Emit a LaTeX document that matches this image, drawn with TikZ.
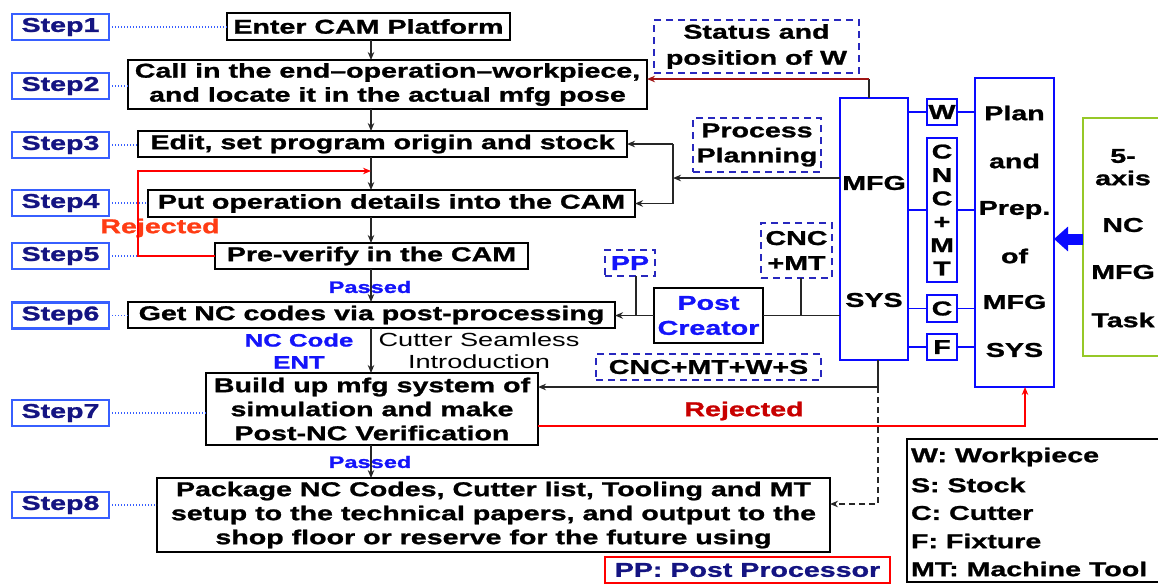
\documentclass[tikz,border=0pt]{standalone}
\usepackage{fontspec}
\setmainfont{Liberation Sans}[FakeStretch=1.43, BoldFeatures={FakeBold=1.2}]
\usetikzlibrary{arrows.meta}
\definecolor{stepblue}{RGB}{55,95,255}
\definecolor{stepnavy}{RGB}{20,20,130}
\definecolor{sysblue}{RGB}{10,10,255}
\definecolor{dashblue}{RGB}{40,40,190}
\definecolor{textblue}{RGB}{20,20,250}
\definecolor{rejorange}{RGB}{255,60,20}
\definecolor{rejdark}{RGB}{200,0,0}
\definecolor{stred}{RGB}{160,20,20}
\definecolor{lineRed}{RGB}{255,0,0}
\definecolor{taskgreen}{RGB}{150,200,40}
\begin{document}
\begin{tikzpicture}[x=1pt,y=-1pt,
  every node/.style={inner sep=0pt, outer sep=0pt, font=\bfseries\fontsize{20}{24}\selectfont},
  stepbox/.style={draw=stepblue, line width=2.5pt, text=stepnavy, minimum width=97pt, minimum height=26pt},
  procbox/.style={draw=black, line width=2pt, align=center},
  dbox/.style={draw=dashblue, line width=1.8pt, dash pattern=on 7pt off 5pt, align=center},
  sysbox/.style={draw=sysblue, line width=2.8pt},
  link/.style={line width=1.5pt, draw=black!85},
  tipk/.style={-{Stealth[length=8pt,width=6.5pt]}},
  arr/.style={link, tipk},
  blink/.style={line width=1.6pt, draw=sysblue},
  dotl/.style={draw=stepblue, line width=1.3pt, dash pattern=on 1.2pt off 1.8pt},
  twoline/.style={align=center, font=\bfseries\fontsize{20}{25}\selectfont}]
\useasboundingbox (0,0) rectangle (1158,584);
\fill[white] (0,0) rectangle (1158,584);

% step labels
\foreach \n/\y in {1/27,2/86,3/145,4/203,5/256,6/315.5,7/413,8/505}
  \node[stepbox] (S\n) at (60.5,\y) {Step\n};

% process boxes
\node[procbox, minimum width=283pt, minimum height=27pt] (B1) at (368.5,26.5) {Enter CAM Platform};
\node[procbox, minimum width=519pt, minimum height=49pt] (B2) at (387.5,84.5) {Call in the end–operation–workpiece,\\and locate it in the actual mfg pose};
\node[procbox, minimum width=489pt, minimum height=26pt] (B3) at (382.5,144) {Edit, set program origin and stock};
\node[procbox, minimum width=487pt, minimum height=27pt] (B4) at (391.5,203.5) {Put operation details into the CAM};
\node[procbox, minimum width=313pt, minimum height=26pt] (B5) at (371.5,256) {Pre-verify in the CAM};
\node[procbox, minimum width=487pt, minimum height=26pt] (B6) at (371.5,315) {Get NC codes via post-processing};
\node[procbox, minimum width=332pt, minimum height=72pt] (B7) at (372,409) {Build up mfg system of\\simulation and make\\Post-NC Verification};
\node[procbox, minimum width=673pt, minimum height=74pt] (B8) at (493.5,515) {Package NC Codes, Cutter list, Tooling and MT\\setup to the technical papers, and output to the\\shop floor or reserve for the future using};

% dotted step links
\foreach \n in {1,...,8}
  \draw[dotl] (S\n.east) -- (S\n.east -| B\n.west);

% labels on the main column
\node[text=rejorange] (rejL) at (160,228) {Rejected};
\node[text=textblue, font=\bfseries\fontsize{16.5}{18}\selectfont] (pass1) at (370,287) {Passed};
\node[text=textblue, font=\bfseries\fontsize{16.5}{18}\selectfont] (pass2) at (370,462) {Passed};
\node[text=textblue, align=center, font=\bfseries\fontsize{18}{22}\selectfont] (nce) at (299,351) {NC Code\\ENT};
\node[align=center, font=\fontsize{19}{22}\selectfont] (csi) at (479,351) {Cutter Seamless\\Introduction};

% main column arrows
\coordinate (ax) at (371,0);
\draw[arr] (B1.south -| ax) -- (B2.north -| ax);
\draw[arr] (B2.south -| ax) -- (B3.north -| ax);
\draw[arr] (B3.south -| ax) -- (B4.north -| ax);
\draw[arr] (B4.south -| ax) -- (B5.north -| ax);
\draw[arr] (B5.south -| ax) -- (B6.north -| ax);
\draw[arr] (B6.south -| ax) -- (B7.north -| ax);
\draw[arr] (B7.south -| ax) -- (B8.north -| ax);

% rejected loop (step 5 back to step 4)
\coordinate (rj) at (138,171);
\draw[draw=lineRed, line width=2pt, -{Stealth[length=8pt,width=6.5pt]}] (B5.west) -| (rj) -- (rj -| ax);

% right side boxes
\node[dbox, minimum width=205pt, minimum height=53pt, twoline, font=\bfseries\fontsize{20}{26}\selectfont] (SW) at (756.5,46.5) {Status and\\position of W};
\node[dbox, minimum width=128pt, minimum height=54pt, twoline] (PrP) at (757,145) {Process\\Planning};
\node[sysbox, minimum width=68pt, minimum height=262pt] (mfg) at (874,229) {};
\node (mfgt1) at (874,183) {MFG};
\node (mfgt2) at (874,300) {SYS};

\node[sysbox, minimum width=30pt, minimum height=26pt] (bW) at (942,112) {W};
\node[sysbox, minimum width=30pt, minimum height=144pt, align=center, font=\bfseries\fontsize{20}{23.4}\selectfont] (bCM) at (942,210) {C\\N\\C\\+\\M\\T};
\node[sysbox, minimum width=30pt, minimum height=27pt] (bC) at (942,308.5) {C};
\node[sysbox, minimum width=30pt, minimum height=26pt] (bF) at (942,347) {F};

\node[sysbox, minimum width=79pt, minimum height=309pt] (plan) at (1014.5,232.5) {};
\node (p1) at (1014.5,113) {Plan};
\node (p2) at (1014.5,161) {and};
\node (p3) at (1014.5,210) {Prep.};
\node (p4) at (1014.5,256) {of};
\node (p5) at (1014.5,302) {MFG};
\node (p6) at (1014.5,350) {SYS};

\foreach \b in {bW,bCM,bC,bF}{
  \draw[blink] (mfg.east |- \b.west) -- (\b.west);
  \draw[blink] (\b.east) -- (plan.west |- \b.east);
}

% 5-axis NC MFG task
\draw[draw=taskgreen, line width=2.2pt] (1158,118) -- (1083,118) -- (1083,356) -- (1158,356);
\node (g1) at (1123,156) {5-};
\node (g2) at (1123,178) {axis};
\node (g3) at (1123,225) {NC};
\node (g4) at (1123,272) {MFG};
\node (g5) at (1123,320) {Task};
\coordinate (gL) at (1083,239);
\draw[draw=sysblue, line width=11pt, -{Triangle[length=14pt,width=24pt]}] (gL) -- (gL -| plan.east);

% status and position of W
\coordinate (st) at (869,79);
\draw[link] (mfg.north -| st) -- (st);
\draw[draw=stred, line width=1.6pt, tipk] (st) -- (st -| B2.east);

% process planning
\coordinate (pp1) at (673,178);
\draw[arr] (mfg.west |- pp1) -- (pp1);
\draw[link] (pp1 |- B3.east) -- (pp1 |- B4.east);
\draw[arr] (pp1 |- B3.east) -- (B3.east);
\draw[arr] (pp1 |- B4.east) -- (B4.east);

% post creator
\node[draw=black, line width=2pt, minimum width=109pt, minimum height=55pt, text=textblue, twoline] (pc) at (708.5,315.5) {Post\\Creator};
\node[dbox, minimum width=50pt, minimum height=26pt, text=textblue] (pp) at (630,263) {PP};
\node[dbox, minimum width=71pt, minimum height=55pt, twoline] (cm2) at (796.5,250.5) {CNC\\+MT};
\draw[link] (mfg.west |- pc.east) -- (pc.east);
\draw[arr] (pc.west) -- (pc.west -| B6.east);
\coordinate (ppj) at (636,315.5);
\coordinate (cmj) at (801,315.5);
\draw[link] (ppj |- pp.south) -- (ppj);
\draw[link] (cmj |- cm2.south) -- (cmj);

% simulation system
\node[dbox, minimum width=225pt, minimum height=26pt] (cmws) at (708.5,367) {CNC+MT+W+S};
\coordinate (mb) at (878,387);
\draw[link] (mfg.south -| mb) -- (mb);
\draw[arr] (mb) -- (mb -| B7.east);
\coordinate (d8) at (830,504);
\draw[link, dash pattern=on 6pt off 4pt, tipk] (mb) |- (d8);

% rejected from step 7
\coordinate (rr) at (1025,426);
\node[text=rejdark] (rejR) at (744,411) {Rejected};
\draw[draw=lineRed, line width=1.6pt, -{Stealth[length=8pt,width=6.5pt]}] (rr -| B7.east) -| (plan.south -| rr);

% legend
\draw[line width=2pt] (1158,439) -- (907,439) -- (907,582) -- (1158,582);
\node[anchor=west] (l1) at (911,457) {W: Workpiece};
\node[anchor=west] (l2) at (911,485) {S: Stock};
\node[anchor=west] (l3) at (911,513) {C: Cutter};
\node[anchor=west] (l4) at (911,541) {F: Fixture};
\node[anchor=west] (l5) at (911,569) {MT: Machine Tool};

\node[draw=lineRed, line width=2.5pt, minimum width=285pt, minimum height=26pt, text=stepnavy] (ppl) at (747.5,570) {PP: Post Processor};
\end{tikzpicture}
\end{document}
